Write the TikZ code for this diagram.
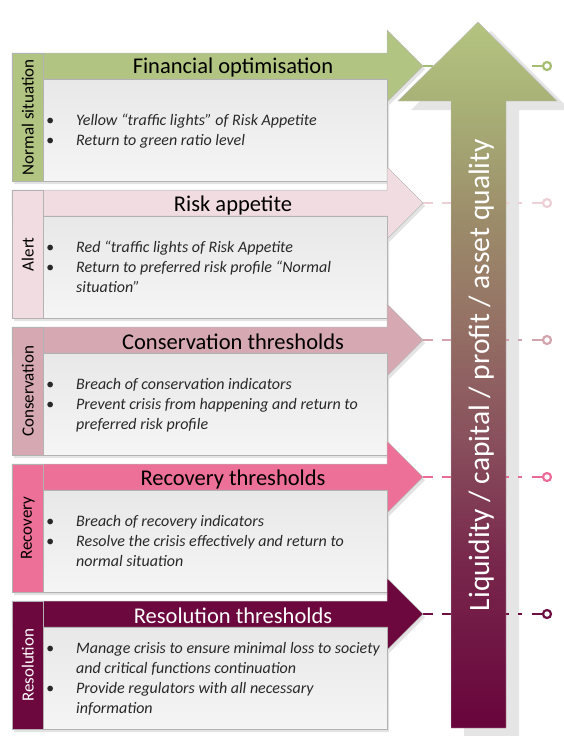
\documentclass[tikz,border=0pt]{standalone}
\usepackage{fontspec}
\setmainfont{Carlito}
\definecolor{cgreen}{RGB}{178,196,130}
\definecolor{calert}{RGB}{241,221,225}
\definecolor{ccons}{RGB}{214,168,178}
\definecolor{creco}{RGB}{236,112,152}
\definecolor{creso}{RGB}{108,8,62}
\definecolor{dgreen}{RGB}{165,188,115}
\definecolor{dalert}{RGB}{236,208,214}
\definecolor{dcons}{RGB}{212,164,174}
\definecolor{dreco}{RGB}{234,108,150}
\definecolor{dreso}{RGB}{110,14,66}
\definecolor{itemgray}{RGB}{40,40,40}
\definecolor{a0}{RGB}{104,4,60}
\definecolor{a1}{RGB}{120,40,76}
\definecolor{a2}{RGB}{136,78,92}
\definecolor{a3}{RGB}{150,118,102}
\definecolor{a4}{RGB}{156,140,106}
\definecolor{a5}{RGB}{168,176,118}
\definecolor{a6}{RGB}{180,196,128}
\pgfdeclareverticalshading{bigarrowshade}{100bp}{color(0bp)=(a0);color(25bp)=(a0);color(37bp)=(a1);color(45bp)=(a2);color(55bp)=(a3);color(61bp)=(a4);color(69bp)=(a5);color(75bp)=(a6);color(100bp)=(a6)}
\tikzset{
  stagearrow/.style={draw=gray!55, line width=0.5pt},
  stageshadow/.style={fill=gray!22},
  contentbox/.style={draw=gray!60, line width=0.5pt, top color=gray!18, bottom color=gray!8, inner sep=0pt},
  tabbox/.style={draw=gray!60, line width=0.5pt, minimum width=31pt, minimum height=128pt, inner sep=0pt},
  tablabel/.style={rotate=90, font=\fontsize{17}{17}\selectfont, inner sep=0pt},
  titletext/.style={font=\fontsize{22.5}{22.5}\selectfont, inner sep=0pt},
  itemtext/.style={font=\fontsize{16}{20}\selectfont\itshape, text=itemgray, inner sep=0pt, align=left},
  dashconn/.style={line width=2.4pt, dash pattern=on 10pt off 9pt},
  solidconn/.style={line width=2.4pt},
  endcircle/.style={circle, draw, line width=2.2pt, fill=white, minimum size=8pt, inner sep=0pt},
}
\newcommand\drawstage[7]{%
\begin{scope}[shift={(0,#2)}]
 \fill[stageshadow] (14,3) -- (389,3) -- (389,-20) -- (425,16) -- (389,52) -- (389,131) -- (14,131) -- cycle;
 \draw[stagearrow, fill=#3] (12,0) -- (387,0) -- (387,-23) -- (423,13) -- (387,49) -- (387,26) -- (12,26) -- cycle;
 \node[contentbox, anchor=north west, minimum width=344pt, minimum height=102pt] (#1box) at (43,26) {};
 \node[tabbox, fill=#3, anchor=north west] (#1tab) at (12,0) {};
 \node[tablabel, text=#4] (#1label) at (#1tab.center) {#5};
 \node[titletext, text=#4] (#1title) at (233,15) {#6};
 \node[itemtext, anchor=west] (#1items) at (46,78.5) {\begin{tabular}{@{}p{30pt}@{}l@{}}#7\end{tabular}};
\end{scope}}
\newcommand\drawconn[3]{%
\begin{scope}[shift={(0,#2)}]
 \coordinate (#1tip) at (423,13);
 \coordinate (#1dend) at (522,13);
 \coordinate (#1sstart) at (532,13);
 \node[endcircle, draw=#3] (#1circ) at (547,13) {};
 \draw[dashconn, #3] (#1tip) -- (#1dend);
 \draw[solidconn, #3] (#1sstart) -- (#1circ);
\end{scope}}
\begin{document}
\begin{tikzpicture}[x=1pt,y=-1pt]
\useasboundingbox (0,0) rectangle (563,736);
% shadow of the big arrow
\fill[gray!20] (464,737) -- (464,110) -- (411,110) -- (491,31) -- (570,110) -- (519,110) -- (519,737) -- cycle;
% connectors
\drawconn{s1}{53}{dgreen}
\drawconn{s2}{190}{dalert}
\drawconn{s3}{327}{dcons}
\drawconn{s4}{464}{dreco}
\drawconn{s5}{601}{dreso}
% big arrow
\path[shading=bigarrowshade, draw=gray!50, line width=0.4pt] (451,728) -- (451,101) -- (398,101) -- (478,22) -- (557,101) -- (506,101) -- (506,728) -- cycle;
\node[rotate=90, anchor=base, text=white, font=\fontsize{29.5}{29.5}\selectfont, inner sep=0pt] (axislabel) at (489,375) {Liquidity / capital / profit / asset quality};
% stages
\drawstage{s1}{53}{cgreen}{black}{Normal situation}{Financial optimisation}{\textbullet & Yellow “traffic lights” of Risk Appetite\\ \textbullet & Return to green ratio level}
\drawstage{s2}{190}{calert}{black}{Alert}{Risk appetite}{\textbullet & Red “traffic lights of Risk Appetite\\ \textbullet & Return to preferred risk profile “Normal\\ & situation”}
\drawstage{s3}{327}{ccons}{black}{Conservation}{Conservation thresholds}{\textbullet & Breach of conservation indicators\\ \textbullet & Prevent crisis from happening and return to\\ & preferred risk profile}
\drawstage{s4}{464}{creco}{black}{Recovery}{Recovery thresholds}{\textbullet & Breach of recovery indicators\\ \textbullet & Resolve the crisis effectively and return to\\ & normal situation}
\drawstage{s5}{601}{creso}{white}{Resolution}{Resolution thresholds}{\textbullet & Manage crisis to ensure minimal loss to society\\ & and critical functions continuation\\ \textbullet & Provide regulators with all necessary\\ & information}
\end{tikzpicture}
\end{document}
